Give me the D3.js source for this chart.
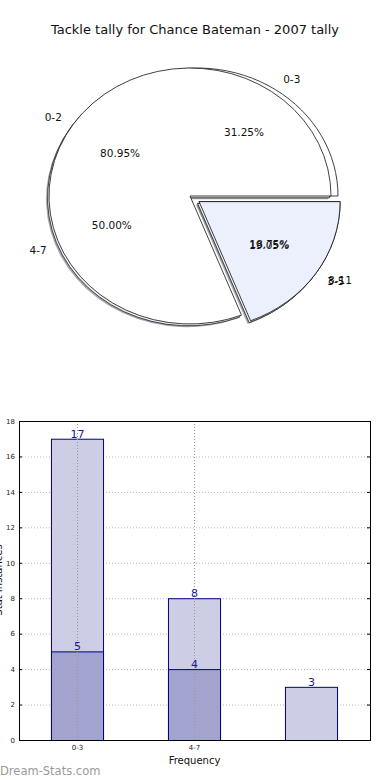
<!DOCTYPE html>
<html>
<head>
<meta charset="utf-8">
<script src="https://cdn.jsdelivr.net/npm/d3@7"></script>
<style>
  body { margin: 0; background: #fff; }
  svg { display: block; font-family: "DejaVu Sans", sans-serif; }
</style>
</head>
<body>
<div class="chart"></div>
<script>
const title = "Tackle tally for Chance Bateman - 2007 tally";

/* pie 1: tally by 0-3 / 4-7 / 8-11 */
const pieOneLabels = ["0-3", "4-7", "8-11"];
const pieOneValues = [5, 8, 3];
/* pie 2: tally by 0-2 / 3-5 */
const pieTwoLabels = ["0-2", "3-5"];
const pieTwoValues = [17, 4];

/* bar chart */
const barCategories = ["0-3", "4-7", "8-11"];
const barTickLabels = ["0-3", "4-7", ""];
const lightValues = [17, 8, 3];
const darkValues = [5, 4, null];
const yTicks = [0, 2, 4, 6, 8, 10, 12, 14, 16, 18];

const w = 390, h = 780;
const svg = d3.select(".chart").append("svg")
  .attr("width", w).attr("height", h);

svg.append("text")
  .attr("x", 195).attr("y", 34)
  .attr("text-anchor", "middle")
  .attr("font-size", 13)
  .attr("fill", "#111")
  .text(title);

/* ---------- pies ---------- */
const cx = 190, cy = 196, rx = 141, ry = 128;
const pie = d3.pie().sort(null)
  .startAngle(Math.PI / 2)
  .endAngle(Math.PI / 2 - 2 * Math.PI);
const arc = d3.arc().innerRadius(0).outerRadius(rx);

const pieOne = pie(pieOneValues);
const pieTwo = pie(pieTwoValues);
const total1 = d3.sum(pieOneValues), total2 = d3.sum(pieTwoValues);

const mid = d => (d.startAngle + d.endAngle) / 2;
const explode = 11;
const explodeOff = d => [explode * Math.sin(mid(d)), -explode * Math.cos(mid(d)) * ry / rx];

function drawSlice(d, fill, off, shadow) {
  const g = svg.append("g")
    .attr("transform", `translate(${cx + off[0]},${cy + off[1]}) scale(1,${ry / rx})`);
  if (shadow) {
    g.append("path").attr("d", arc(d))
      .attr("transform", "translate(-3,3.5)")
      .attr("fill", "#8a8a8a").attr("opacity", 0.75);
    g.append("path").attr("d", arc(d))
      .attr("transform", "translate(-1.5,2)")
      .attr("fill", "#ebf0fc").attr("stroke", "#222")
      .attr("stroke-width", 0.8).attr("vector-effect", "non-scaling-stroke");
  }
  g.append("path").attr("d", arc(d))
    .attr("fill", fill).attr("stroke", "#111")
    .attr("stroke-width", 0.8).attr("vector-effect", "non-scaling-stroke");
}

/* offsets per slice: 0-3 sits a little to the right, small slices are pulled out */
const pieOneOff = [[7, 0], [0, 0], explodeOff(pieOne[2])];
const pieTwoOff = [[0, 0], explodeOff(pieTwo[1])];

drawSlice(pieOne[0], "#fff", pieOneOff[0], false);
drawSlice(pieTwo[0], "#fff", pieTwoOff[0], true);
drawSlice(pieOne[2], "#ebf0fc", pieOneOff[2], true);
drawSlice(pieTwo[1], "#ebf0fc", pieTwoOff[1], true);

function pieLabels(data, labels, total, offs) {
  data.forEach((d, i) => {
    const a = mid(d), s = Math.sin(a), c = Math.cos(a);
    const off = offs[i];
    svg.append("text")
      .attr("x", cx + off[0] + rx * 0.6 * s)
      .attr("y", cy + off[1] - ry * 0.6 * c + 4)
      .attr("text-anchor", "middle").attr("font-size", 10.5).attr("fill", "#111")
      .text((d.value / total * 100).toFixed(2) + "%");
    svg.append("text")
      .attr("x", cx + off[0] + rx * 1.1 * s)
      .attr("y", cy + off[1] - ry * 1.1 * c + 4)
      .attr("text-anchor", s >= 0 ? "start" : "end")
      .attr("font-size", 10.5).attr("fill", "#111")
      .text(labels[i]);
  });
}
pieLabels(pieOne, pieOneLabels, total1, pieOneOff);
pieLabels(pieTwo, pieTwoLabels, total2, pieTwoOff);

/* ---------- bars ---------- */
const mLeft = 19, mRight = 370, mTop = 421, mBottom = 740;
const xScale = d3.scaleBand().domain(barCategories).range([mLeft, mRight]).padding(0);
const yScale = d3.scaleLinear().domain([0, 18]).range([mBottom, mTop]);
const bw = xScale.bandwidth() * 0.445;
const xc = c => xScale(c) + xScale.bandwidth() / 2;

/* grid */
svg.append("g").selectAll("line").data(yTicks.slice(1)).enter().append("line")
  .attr("x1", mLeft).attr("x2", mRight)
  .attr("y1", d => yScale(d) + 0.5).attr("y2", d => yScale(d) + 0.5)
  .attr("stroke", "#b8b8b8").attr("stroke-dasharray", "1,2");

svg.append("g").selectAll("rect").data(barCategories).enter().append("rect")
  .attr("x", d => xc(d) - bw / 2)
  .attr("y", (d, i) => yScale(lightValues[i]) + 0.5)
  .attr("width", bw)
  .attr("height", (d, i) => mBottom - yScale(lightValues[i]))
  .attr("fill", "#cdcde5").attr("stroke", "#000080").attr("stroke-width", 1);

svg.append("g").selectAll("rect").data(barCategories.filter((c, i) => darkValues[i] != null)).enter().append("rect")
  .attr("x", d => xc(d) - bw / 2)
  .attr("y", (d, i) => yScale(darkValues[i]) + 0.5)
  .attr("width", bw)
  .attr("height", (d, i) => mBottom - yScale(darkValues[i]))
  .attr("fill", "#a3a3cf").attr("stroke", "#000080").attr("stroke-width", 1);

/* vertical grid at labelled ticks */
svg.append("g").selectAll("line").data(barCategories.filter((c, i) => barTickLabels[i] !== "")).enter().append("line")
  .attr("x1", d => xc(d)).attr("x2", d => xc(d))
  .attr("y1", mTop).attr("y2", mBottom)
  .attr("stroke", "#999").attr("stroke-dasharray", "1,2");

/* value labels */
const valueLabel = (vals) => svg.append("g").selectAll("text")
  .data(barCategories.filter((c, i) => vals[i] != null)).enter().append("text")
  .attr("x", d => xc(d))
  .attr("y", (d, i) => yScale(vals[i]) - 1)
  .attr("text-anchor", "middle").attr("font-size", 11).attr("fill", "#1a1a8c")
  .text((d, i) => vals[i]);
valueLabel(lightValues);
valueLabel(darkValues);

/* axes */
const yAxis = d3.axisLeft(yScale).tickValues(yTicks).tickSize(-3).tickPadding(4);
svg.append("g").attr("transform", `translate(${mLeft},0)`).call(yAxis)
  .call(g => g.select(".domain").remove())
  .selectAll("text").attr("font-size", 7).attr("font-family", "DejaVu Sans").attr("fill", "#222");
const yAxisR = d3.axisRight(yScale).tickValues(yTicks).tickSize(-3).tickFormat("");
svg.append("g").attr("transform", `translate(${mRight},0)`).call(yAxisR)
  .call(g => g.select(".domain").remove());

const xAxis = d3.axisBottom(xScale).tickSize(0).tickPadding(5)
  .tickFormat((d, i) => barTickLabels[i]);
svg.append("g").attr("transform", `translate(0,${mBottom})`).call(xAxis)
  .call(g => g.select(".domain").remove())
  .selectAll("text").attr("font-size", 7).attr("font-family", "DejaVu Sans").attr("fill", "#222");

svg.append("rect")
  .attr("x", mLeft + 0.5).attr("y", mTop + 0.5)
  .attr("width", mRight - mLeft).attr("height", mBottom - mTop)
  .attr("fill", "none").attr("stroke", "#000").attr("stroke-width", 1);

svg.append("text")
  .attr("x", xc("4-7")).attr("y", 764)
  .attr("text-anchor", "middle").attr("font-size", 10).attr("fill", "#111")
  .text("Frequency");

svg.append("text")
  .attr("transform", "translate(2,580) rotate(-90)")
  .attr("text-anchor", "middle").attr("font-size", 10).attr("fill", "#111")
  .text("Stat Instances");

svg.append("text")
  .attr("x", 0).attr("y", 775)
  .attr("font-size", 11.5).attr("fill", "#9a9a9a")
  .text("Dream-Stats.com");
</script>
</body>
</html>
